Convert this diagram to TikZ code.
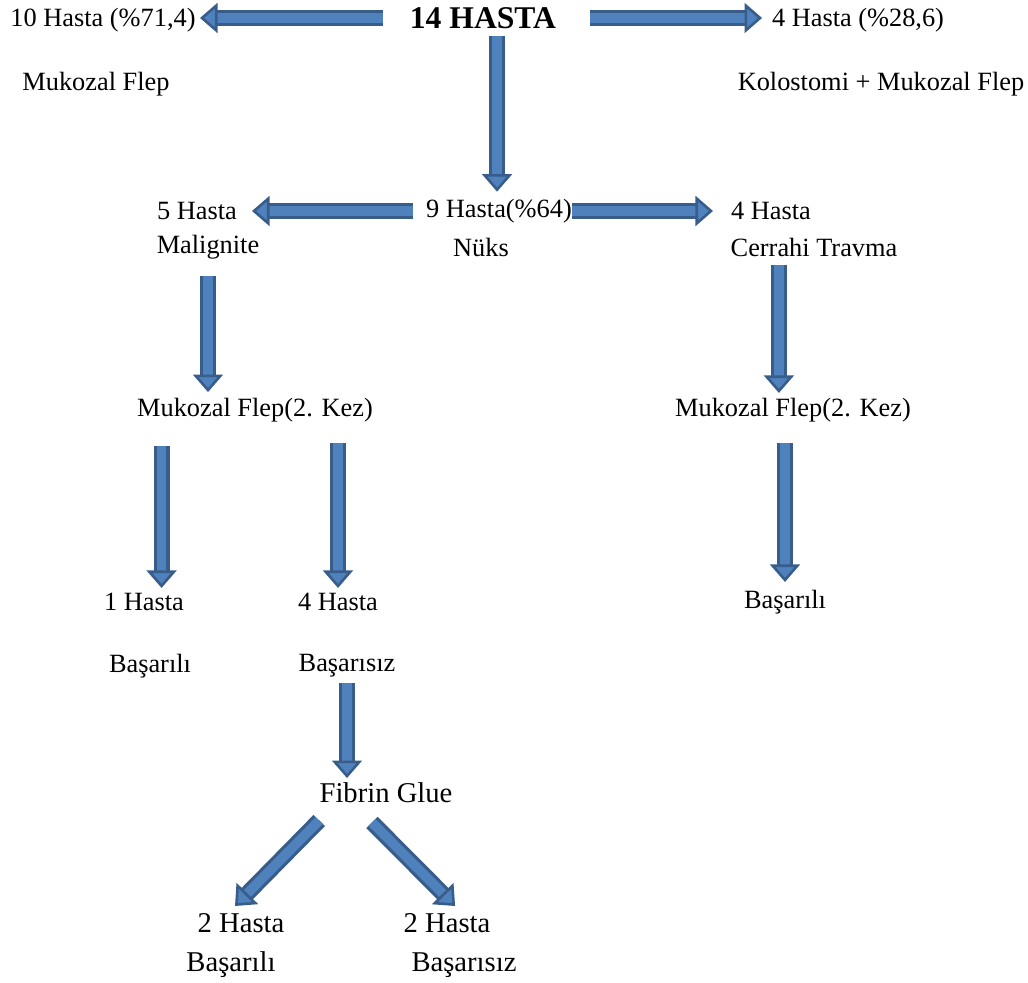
\documentclass[tikz,border=0pt]{standalone}
\usepackage{fontspec}
\setmainfont{Liberation Serif}
\usetikzlibrary{arrows.meta,calc}
\definecolor{arrowfill}{HTML}{4F81BD}
\definecolor{arrowedge}{HTML}{385D8A}

\begin{document}
\begin{tikzpicture}[x=0.02cm, y=-0.02cm,
  every node/.style={inner sep=0pt, font=\fontsize{15}{18}\selectfont},
  big/.style={font=\fontsize{16.3}{19}\selectfont},
  blockarrow/.style={draw=arrowedge, line width=1.8pt, double=arrowfill, double distance=5.5pt,
    -{Triangle[width=17pt, length=10pt, fill=arrowfill, line width=1.5pt]}}]
  \useasboundingbox (0,0) rectangle (1028,983);

  \node[font=\bfseries\fontsize{18}{21}\selectfont] (top) at (483,18) {14 HASTA};
  \node (ten) at (103,20) {10 Hasta (\%71,4)};
  \node (four) at (858,20) {4 Hasta (\%28,6)};
  \node (mfa) at (96,84) {Mukozal Flep};
  \node (mfb) at (881,84) {Kolostomi + Mukozal Flep};

  \node (nine) at (499,211) {9 Hasta(\%64)};
  \node (nuks) at (481,247) {Nüks};
  \node (five) at (197,211) {5 Hasta};
  \node (malig) at (208,247) {Malignite};
  \node (fourb) at (771,211) {4 Hasta};
  \node (travma) at (814,247) {Cerrahi Travma};

  \node (mkl) at (255,410) {Mukozal Flep(2. Kez)};
  \node (mkr) at (793,410) {Mukozal Flep(2. Kez)};

  \node (one) at (144,602) {1 Hasta};
  \node (onebas) at (150,666) {Başarılı};
  \node (fourc) at (338,602) {4 Hasta};
  \node (fourbas) at (347,666) {Başarısız};
  \node (rbas) at (785,602) {Başarılı};

  \node[big] (fibrin) at (386,793) {Fibrin Glue};
  \node[big] (twoa) at (241,923) {2 Hasta};
  \node[big] (twoabas) at (231,965) {Başarılı};
  \node[big] (twob) at (447,923) {2 Hasta};
  \node[big] (twobbas) at (464,965) {Başarısız};

  \draw[blockarrow, shorten <=57pt, shorten >=55.2pt] (top.center) -- (top.center -| ten.center);
  \draw[blockarrow, shorten <=60.9pt, shorten >=54.6pt] (top.center) -- (top.center -| four.center);
  \draw[blockarrow, shorten <=4pt, shorten >=4pt] ([xshift=-1.1pt]nine.north |- top.south) -- ([xshift=-1.1pt]nine.north);
  \draw[blockarrow, shorten <=48.9pt, shorten >=31.3pt] (nine.center) -- (five.center);
  \draw[blockarrow, shorten <=41.5pt, shorten >=33pt] (nine.center) -- (fourb.center);
  \draw[blockarrow, shorten <=16.5pt, shorten >=10.2pt] (malig.center) -- (malig.center |- mkl.center);
  \draw[blockarrow, shorten <=10.2pt, shorten >=9.7pt] ([xshift=4.5pt]travma.center -| fourb.center) -- ([xshift=4.5pt]fourb.center |- mkr.center);
  \draw[blockarrow, shorten <=20.5pt, shorten >=8pt] ([xshift=10pt]one.center |- mkl.center) -- ([xshift=10pt]one.center);
  \draw[blockarrow, shorten <=18.8pt, shorten >=8pt] (fourc.center |- mkl.center) -- (fourc.center);
  \draw[blockarrow, shorten <=18.8pt, shorten >=11.4pt] (rbas.center |- mkr.center) -- (rbas.center);
  \draw[blockarrow, shorten <=9.7pt, shorten >=8.5pt] (fourbas.center) -- (fourbas.center |- fibrin.center);
  \draw[blockarrow] ([yshift=-9.7pt]fibrin.south west) -- ([xshift=-3.4pt, yshift=4pt]twoa.north);
  \draw[blockarrow] ([xshift=-8pt, yshift=-10.8pt]fibrin.south) -- ([xshift=4.6pt, yshift=4pt]twob.north);
\end{tikzpicture}
\end{document}
